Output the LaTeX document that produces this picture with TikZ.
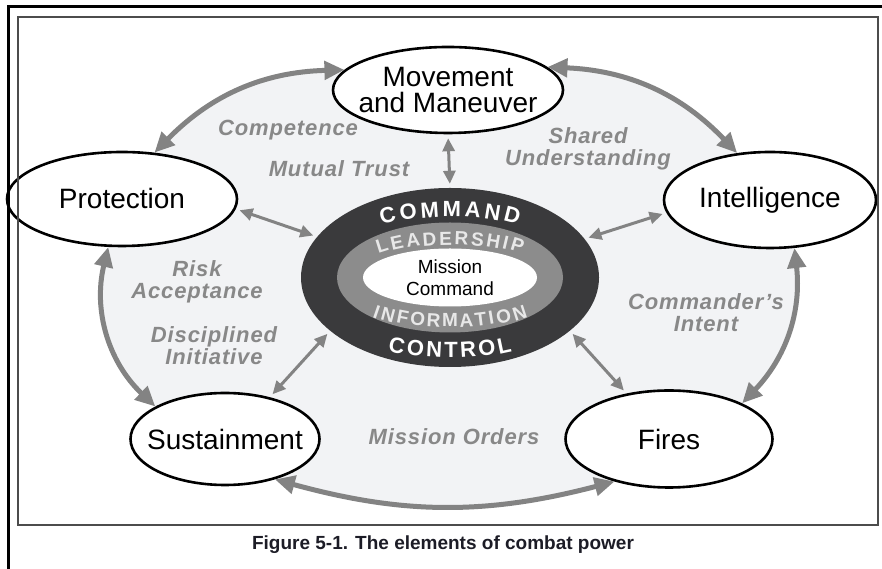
\documentclass[tikz,border=0pt]{standalone}
\usepackage{fontspec}
\setmainfont{Liberation Sans}
\newfontfamily\tagfont[LetterSpace=4]{Liberation Sans}
\usetikzlibrary{shapes.geometric, arrows.meta, backgrounds}

\definecolor{ringdark}{RGB}{58,58,60}
\definecolor{ringgray}{RGB}{140,140,140}
\definecolor{ringlight}{RGB}{232,232,232}
\definecolor{bgfill}{RGB}{242,243,245}
\definecolor{linkgray}{RGB}{131,131,131}
\definecolor{labelgray}{RGB}{136,136,136}
\definecolor{capcol}{RGB}{28,28,38}

% letters set one by one on an ellipse round (cmd):
% #1 name, #2 x radius, #3 y radius (negative = lower half), #4 node options, #5 letter/x-offset list
\newcommand\ringletters[5]{%
  \foreach \ch/\dx [count=\i] in {#5} {
    \pgfmathsetmacro\u{\dx/#2}
    \pgfmathsetmacro\py{#3*sqrt(1-\u*\u)}
    \pgfmathsetmacro\rot{-1.4*atan((#3/#2)*\u/sqrt(1-\u*\u))}
    \node[#4, anchor=base, inner sep=0pt, rotate=\rot] (#1\i) at ([shift={(cmd.center)}]\dx,\py) {\ch};
  }}

\tikzset{
  elem/.style={ellipse, draw=black, line width=2.6pt, fill=white, inner sep=0pt},
  elemtxt/.style={font=\fontsize{28}{26}\selectfont, align=center},
  bigarrow/.style={draw=linkgray, line width=5pt,
    {Triangle[length=20pt,width=18pt]}-{Triangle[length=20pt,width=18pt]}},
  link/.style={draw=linkgray, line width=3pt, shorten <=4pt, shorten >=4pt,
    {Triangle[length=13pt,width=12pt]}-{Triangle[length=13pt,width=12pt]}},
  tag/.style={text=labelgray, align=center,
    font=\tagfont\bfseries\itshape\fontsize{22}{22}\selectfont},
  bigring/.style={text=white, font=\bfseries\fontsize{22}{22}\selectfont},
  smallring/.style={text=ringlight, font=\bfseries\fontsize{19}{19}\selectfont}
}

\begin{document}
\begin{tikzpicture}[x=1pt, y=1pt]
  \useasboundingbox (0,0) rectangle (882,569);

  % the six elements
  \node[elem, minimum width=230pt, minimum height=86pt,
    label={[elemtxt]center:Movement\\and Maneuver}] (mm) at (448,479) {};
  \node[elem, minimum width=230pt, minimum height=94pt,
    label={[elemtxt]center:Protection}] (prot) at (122,370) {};
  \node[elem, minimum width=212pt, minimum height=96pt,
    label={[elemtxt]center:Intelligence}] (intel) at (770,369) {};
  \node[elem, minimum width=189pt, minimum height=92pt,
    label={[elemtxt]center:Sustainment}] (sus) at (225,130) {};
  \node[elem, minimum width=207pt, minimum height=97pt,
    label={[elemtxt]center:Fires}] (fires) at (669,130) {};

  % mission command rings
  \node[ellipse, fill=ringdark, inner sep=0pt, minimum width=298pt, minimum height=179pt] (cmd) at (450,291.5) {};
  \node[ellipse, fill=ringgray, inner sep=0pt, minimum width=226pt, minimum height=110pt] (lead) at (cmd) {};
  \node[ellipse, fill=white, inner sep=0pt, minimum width=174pt, minimum height=58pt,
    label={[align=center, font=\fontsize{19}{22}\selectfont]center:Mission\\Command}] (mc) at (cmd) {};

  % lettering round the rings
  \ringletters{cmdl}{150}{60.5}{bigring}
    {C/-60.6, O/-40.8, M/-19.8, M/1.8, A/22.2, N/41.4, D/60.6}
  \ringletters{leadl}{110}{32.5}{smallring}
    {L/-66.2, E/-51.7, A/-36.1, D/-20.0, E/-4.4, R/11.2, S/26.8, H/42.4, I/54.3, P/65.7}
  \ringletters{infl}{136}{-49.5}{smallring}
    {I/-75.5, N/-63.5, F/-48.5, O/-33.0, R/-16.75, M/0, A/16.75, T/31.4, I/42.2, O/55.0, N/71.6}
  \ringletters{ctll}{176}{-79.5}{bigring}
    {C/-54.55, O/-35.35, N/-16.15, T/1.2, R/18.55, O/37.75, L/55.7}

  % links to the centre
  \draw[link] (mm.south) -- (cmd.north);
  \draw[link] (prot.-5) -- (cmd.163);
  \draw[link] (intel.187) -- (cmd.16);
  \draw[link] (sus.43) -- (cmd.204);
  \draw[link] (fires.133) -- (cmd.336);

  % outer ring of arrows
  \draw[bigarrow] (mm.169) to[bend right=22] (prot.55);
  \draw[bigarrow] (mm.13) to[bend left=22] (intel.125);
  \draw[bigarrow] (prot.254) to[bend right=30] (sus.155);
  \draw[bigarrow] (intel.297) to[bend left=25] (fires.26);
  \draw[bigarrow] (sus.321) to[bend right=15] (fires.218);

  % tenets
  \node[tag] (t1) at (288,439) {Competence};
  \node[tag] (t2) at (339,400) {Mutual Trust};
  \node[tag] (t3) at (588,420) {Shared\\Understanding};
  \node[tag] (t4) at (197,287) {Risk\\Acceptance};
  \node[tag] (t5) at (214,223) {Disciplined\\Initiative};
  \node[tag] (t6) at (706,256) {Commander’s\\Intent};
  \node[tag] (t7) at (454,132) {Mission Orders};

  \begin{pgfonlayer}{background}
    \fill[bgfill] (mm.center) -- (mm.169) to[bend right=22] (prot.55) -- (prot.center)
      -- (prot.254) to[bend right=30] (sus.155) -- (sus.center)
      -- (sus.321) to[bend right=15] (fires.218) -- (fires.center)
      -- (fires.26) to[bend right=25] (intel.297) -- (intel.center)
      -- (intel.125) to[bend right=22] (mm.13) -- cycle;
  \end{pgfonlayer}

  % frame and caption
  \draw[line width=1.4pt, draw=gray!60!black] (18,44) rectangle (878,552);
  \draw[line width=3pt] (8,0) -- (8,562) -- (882,562);
  \node[font=\bfseries\fontsize{19}{19}\selectfont, text=capcol] (cap) at (443,24) {Figure 5-1. The elements of combat power};
\end{tikzpicture}
\end{document}
